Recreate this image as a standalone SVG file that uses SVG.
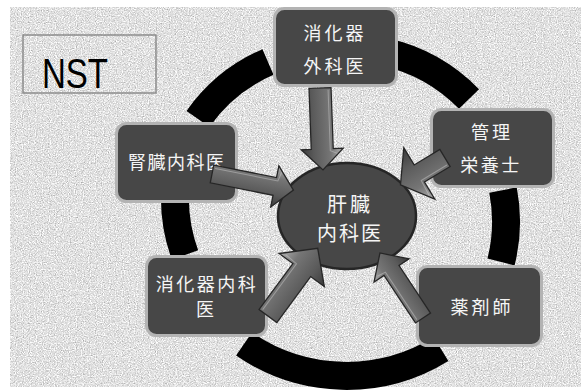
<svg xmlns="http://www.w3.org/2000/svg" width="588" height="391" viewBox="0 0 588 391">
  <defs>
    <filter id="noise" x="0" y="0" width="100%" height="100%" color-interpolation-filters="sRGB">
      <feTurbulence type="fractalNoise" baseFrequency="0.85" numOctaves="2" seed="7" result="t"/>
      <feColorMatrix in="t" type="matrix" values="0.38 0.38 0 0 0.5  0.38 0.38 0 0 0.5  0.38 0.38 0 0 0.5  0 0 0 0 1"/>
    </filter>
    <linearGradient id="ag" x1="0" y1="0" x2="0" y2="1">
      <stop offset="0" stop-color="#b0b0b0"/>
      <stop offset="0.3" stop-color="#767676"/>
      <stop offset="0.7" stop-color="#5a5a5a"/>
      <stop offset="1" stop-color="#3a3a3a"/>
    </linearGradient>
    <style>
      .ring { fill: none; stroke: #000; stroke-width: 28; stroke-linecap: butt; }
      .box { fill: #474747; stroke: #b3b3b3; stroke-width: 3; }
      .lbl { fill: #f5f5f5; font-family: "Noto Sans CJK JP", "Noto Sans CJK SC", sans-serif; font-size: 18px; text-anchor: middle; }
      .arrow { fill: url(#ag); stroke: #262626; stroke-width: 1.3; stroke-linejoin: miter; }
      .bevel { fill: none; stroke: #d0d0d0; stroke-opacity: 0.45; stroke-width: 1; }
    </style>
  </defs>

  <rect x="0" y="0" width="588" height="391" fill="#ffffff"/>
  <rect x="10" y="7" width="571" height="380" filter="url(#noise)"/>

  <g id="title">
    <rect x="23" y="35" width="133" height="58" fill="none" stroke="#8c8c8c" stroke-width="1.5"/>
    <text x="42" y="88" font-family="'Liberation Sans', Arial, sans-serif" font-size="42" fill="#000" textLength="66" lengthAdjust="spacingAndGlyphs">NST</text>
  </g>

  <g id="connectors">
    <g id="ring">
      <path class="ring" d="M198,119 A165,165 0 0,1 268,62"/>
      <path class="ring" d="M385,52 A170,170 0 0,1 469,99"/>
      <path class="ring" d="M503,190 A165,165 0 0,1 501,262"/>
      <path class="ring" d="M441,349 A180,180 0 0,1 244,344"/>
      <path class="ring" d="M185,255 A165,165 0 0,1 176,180"/>
    </g>
  </g>

  <g id="node-geka">
    <rect class="box" x="274.5" y="8.5" width="122" height="77" rx="10"/>
    <text class="lbl" x="335" y="40" letter-spacing="3">消化器</text>
    <text class="lbl" x="335" y="73" letter-spacing="3">外科医</text>
  </g>

  <g id="node-eiyoushi">
    <rect class="box" x="431.5" y="109.5" width="122" height="77" rx="10"/>
    <text class="lbl" x="492" y="139" letter-spacing="3">管理</text>
    <text class="lbl" x="491" y="172" letter-spacing="2.5">栄養士</text>
  </g>

  <g id="node-jinzou">
    <rect class="box" x="116.5" y="123.5" width="120" height="78" rx="10"/>
    <text class="lbl" x="128" y="169" letter-spacing="1.5" style="text-anchor:start">腎臓内科医</text>
  </g>

  <g id="node-shoukaki">
    <rect class="box" x="146.5" y="256.5" width="120" height="79" rx="10"/>
    <text class="lbl" x="207" y="291" letter-spacing="2.5">消化器内科</text>
    <text class="lbl" x="205" y="316">医</text>
  </g>

  <g id="node-yakuzaishi">
    <rect class="box" x="417.5" y="266.5" width="124" height="79" rx="10"/>
    <text class="lbl" x="482" y="313.5" letter-spacing="3">薬剤師</text>
  </g>

  <g id="node-center">
    <ellipse cx="347" cy="216" rx="69" ry="53" fill="#474747" stroke="#262626" stroke-width="2.5"/>
    <text class="lbl" x="350" y="211.5" style="font-size:20px" letter-spacing="3">肝臓</text>
    <text class="lbl" x="350" y="240.5" style="font-size:20px" letter-spacing="2">内科医</text>
  </g>

  <g id="arrows">
    <g transform="translate(320,88) rotate(87.9)">
      <path class="arrow" d="M0,-11 L61,-11 L61,-21 L82,0 L61,21 L61,11 L0,11 Z"/>
      <path class="bevel" d="M2,-8 L63,-8 L66,-15"/>
    </g>
    <g transform="translate(212,174) rotate(11.2)">
      <path class="arrow" d="M0,-9 L64,-9 L64,-21 L83,0 L64,21 L64,9 L0,9 Z"/>
      <path class="bevel" d="M2,-6 L66,-6 L68,-15"/>
    </g>
    <g transform="translate(445,158) rotate(148.9)">
      <path class="arrow" d="M0,-10 L30,-10 L30,-30 L52,0 L30,30 L30,10 L0,10 Z"/>
      <path class="bevel" d="M2,-7 L32,-7 L33,-24"/>
    </g>
    <g transform="translate(268,316) rotate(-53.7)">
      <path class="arrow" d="M0,-11 L57,-11 L57,-28 L84,0 L57,28 L57,11 L0,11 Z"/>
      <path class="bevel" d="M2,-8 L59,-8 L60,-22"/>
    </g>
    <g transform="translate(423,318) rotate(-123.5)">
      <path class="arrow" d="M0,-9 L57,-9 L57,-21 L78,0 L57,21 L57,9 L0,9 Z"/>
      <path class="bevel" d="M2,-6 L59,-6 L60,-15"/>
    </g>
  </g>
</svg>
